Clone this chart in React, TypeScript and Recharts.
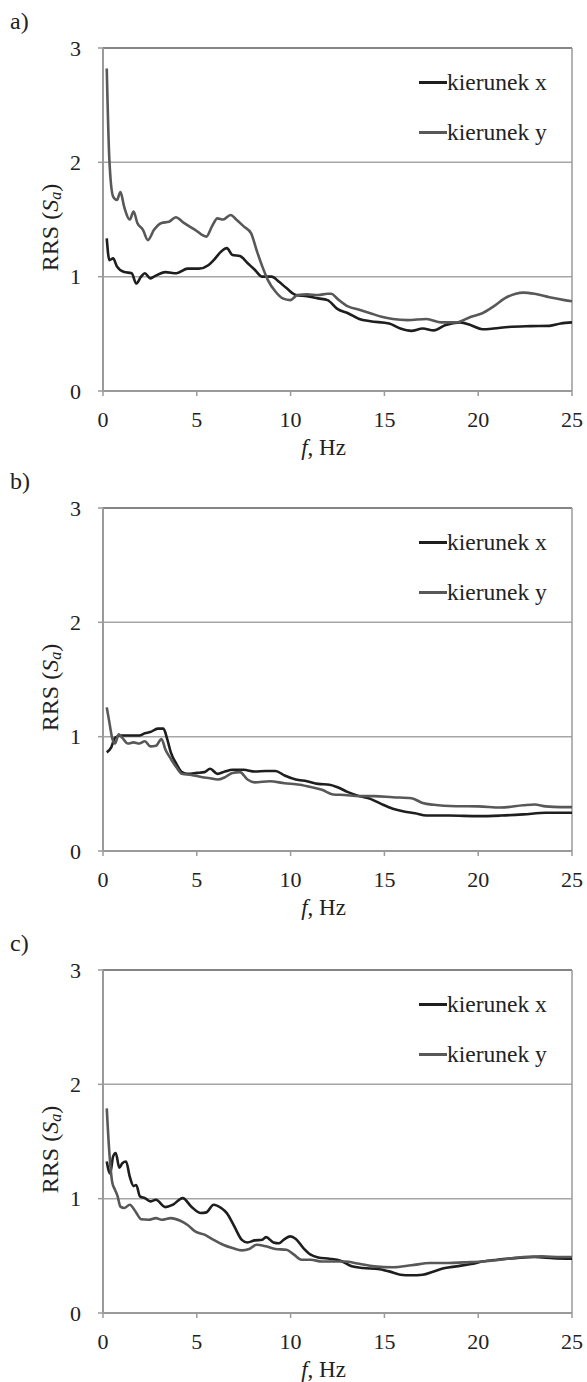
import React from 'react';
import { LineChart, Line, XAxis, YAxis, CartesianGrid, ReferenceLine, Legend, Label } from 'recharts';

const FONT = '"Liberation Serif", "Times New Roman", Times, serif';
const COLOR_X = '#1e1e1e';
const COLOR_Y = '#585858';
const AXIS_GRAY = '#9a9a9a';

const freqTicks = [0, 5, 10, 15, 20, 25];
const rrsTicks = [0, 1, 2, 3];
const seriesNames = ['kierunek x', 'kierunek y'];
const panelLabels = ['a)', 'b)', 'c)'];

// ---- panel a ----
const aFreqX = [0.2, 0.34, 0.54, 0.74, 1.13, 1.53, 1.77, 2.03, 2.23, 2.52, 2.72, 3.32, 3.92, 4.51, 5.11, 5.61, 5.9, 6.3, 6.6, 6.9, 7.3, 7.7, 8.09, 8.49, 8.99, 9.38, 9.78, 10.28, 10.87, 11.47, 11.97, 12.47, 13.06, 13.66, 14.25, 15.25, 15.85, 16.44, 17.04, 17.63, 18.23, 19.03, 19.62, 20.22, 20.82, 21.61, 22.8, 23.8, 24.4, 25];
const aRrsX = [1.335, 1.145, 1.16, 1.09, 1.04, 1.03, 0.94, 1.0, 1.03, 0.985, 1.0, 1.04, 1.03, 1.07, 1.07, 1.1, 1.145, 1.22, 1.25, 1.19, 1.18, 1.12, 1.06, 1.0, 1.0, 0.955, 0.9, 0.84, 0.83, 0.81, 0.795, 0.72, 0.68, 0.63, 0.61, 0.59, 0.546, 0.526, 0.546, 0.53, 0.575, 0.6, 0.575, 0.54, 0.546, 0.56, 0.567, 0.57, 0.59, 0.6];
const aFreqY = [0.2, 0.34, 0.54, 0.74, 0.93, 1.13, 1.43, 1.63, 1.83, 2.13, 2.39, 2.72, 3.12, 3.52, 3.88, 4.31, 4.91, 5.51, 5.81, 6.1, 6.4, 6.8, 7.1, 7.5, 7.89, 8.19, 8.49, 8.79, 9.19, 9.58, 9.98, 10.38, 10.87, 11.47, 11.97, 12.17, 12.47, 13.06, 13.66, 14.25, 14.85, 15.45, 16.24, 17.24, 18.03, 18.83, 19.62, 20.22, 20.82, 21.41, 22.0, 22.4, 23.0, 23.8, 24.6, 25];
const aRrsY = [2.82, 2.02, 1.7, 1.67, 1.74, 1.61, 1.5, 1.57, 1.47, 1.41, 1.32, 1.41, 1.47, 1.48, 1.52, 1.47, 1.41, 1.35, 1.44, 1.51, 1.5, 1.54, 1.5, 1.44, 1.38, 1.23, 1.09, 0.97, 0.87, 0.81, 0.795, 0.84, 0.845, 0.84, 0.85, 0.85, 0.81, 0.74, 0.71, 0.68, 0.65, 0.63, 0.62, 0.63, 0.6, 0.6, 0.65, 0.68, 0.74, 0.81, 0.85, 0.86, 0.85, 0.82, 0.795, 0.785];

// ---- panel b ----
const bFreqX = [0.2, 0.44, 0.64, 0.93, 1.33, 1.93, 2.23, 2.52, 2.92, 3.22, 3.42, 3.62, 3.92, 4.21, 4.51, 5.01, 5.41, 5.71, 6.1, 6.5, 6.9, 7.5, 8.09, 8.69, 9.19, 9.68, 10.28, 10.87, 11.47, 12.07, 12.47, 13.06, 13.66, 14.25, 14.85, 15.45, 16.04, 16.64, 17.24, 18.43, 20.02, 21.2, 22.4, 23.6, 25];
const bRrsX = [0.863, 0.907, 0.99, 1.01, 1.01, 1.01, 1.03, 1.04, 1.07, 1.07, 0.98, 0.86, 0.76, 0.69, 0.675, 0.683, 0.69, 0.72, 0.675, 0.695, 0.71, 0.71, 0.695, 0.7, 0.7, 0.66, 0.625, 0.61, 0.587, 0.58, 0.56, 0.515, 0.48, 0.456, 0.41, 0.37, 0.346, 0.33, 0.31, 0.31, 0.305, 0.31, 0.32, 0.334, 0.334];
const bFreqY = [0.2, 0.34, 0.5, 0.64, 0.84, 1.03, 1.33, 1.63, 1.93, 2.23, 2.52, 2.82, 3.12, 3.32, 3.62, 3.92, 4.21, 4.71, 5.31, 5.71, 6.1, 6.5, 6.9, 7.3, 7.7, 8.09, 8.89, 9.68, 10.48, 11.07, 11.67, 12.27, 12.87, 13.66, 14.45, 15.45, 16.44, 17.04, 17.63, 18.83, 20.02, 21.2, 22.4, 23.0, 23.6, 24.4, 25];
const bRrsY = [1.256, 1.125, 0.98, 0.94, 1.02, 0.99, 0.94, 0.95, 0.94, 0.96, 0.915, 0.92, 0.98, 0.89, 0.805, 0.73, 0.675, 0.665, 0.645, 0.637, 0.625, 0.645, 0.683, 0.69, 0.625, 0.6, 0.61, 0.593, 0.58, 0.56, 0.535, 0.494, 0.49, 0.48, 0.48, 0.47, 0.462, 0.42, 0.404, 0.392, 0.39, 0.38, 0.4, 0.407, 0.39, 0.384, 0.384];

// ---- panel c ----
const cFreqX = [0.2, 0.38, 0.54, 0.68, 0.87, 1.03, 1.23, 1.43, 1.63, 1.77, 1.97, 2.23, 2.52, 2.82, 3.32, 3.72, 4.25, 4.71, 5.21, 5.51, 5.9, 6.3, 6.6, 7.0, 7.4, 7.7, 8.09, 8.49, 8.69, 9.09, 9.38, 9.68, 9.98, 10.28, 10.68, 11.07, 11.47, 12.07, 12.66, 13.26, 13.86, 14.65, 15.25, 15.85, 16.44, 17.04, 17.63, 18.23, 18.83, 19.62, 20.22, 21.01, 22.0, 23.0, 24.0, 25];
const cRrsX = [1.325, 1.22, 1.37, 1.4, 1.27, 1.31, 1.325, 1.19, 1.11, 1.12, 1.02, 1.005, 0.976, 0.99, 0.926, 0.947, 1.005, 0.93, 0.874, 0.88, 0.947, 0.918, 0.874, 0.757, 0.64, 0.617, 0.635, 0.64, 0.664, 0.617, 0.61, 0.647, 0.67, 0.647, 0.568, 0.51, 0.486, 0.475, 0.457, 0.408, 0.393, 0.385, 0.364, 0.335, 0.33, 0.335, 0.364, 0.393, 0.408, 0.428, 0.45, 0.466, 0.48, 0.49, 0.48, 0.475];
const cFreqY = [0.2, 0.34, 0.5, 0.64, 0.78, 0.93, 1.13, 1.43, 1.73, 2.03, 2.43, 2.82, 3.12, 3.62, 4.12, 4.51, 4.91, 5.41, 5.9, 6.4, 6.9, 7.4, 7.79, 8.19, 8.69, 9.19, 9.78, 10.18, 10.58, 11.07, 11.67, 12.27, 12.87, 13.66, 14.45, 15.45, 16.44, 17.44, 18.43, 19.22, 20.22, 21.2, 22.4, 23.4, 24.4, 25];
const cRrsY = [1.79, 1.4, 1.136, 1.078, 1.02, 0.93, 0.918, 0.947, 0.888, 0.82, 0.816, 0.83, 0.816, 0.83, 0.807, 0.77, 0.714, 0.685, 0.64, 0.597, 0.568, 0.548, 0.56, 0.597, 0.583, 0.56, 0.553, 0.51, 0.466, 0.466, 0.45, 0.45, 0.45, 0.43, 0.408, 0.4, 0.417, 0.437, 0.437, 0.443, 0.45, 0.466, 0.49, 0.495, 0.49, 0.49];

const toPoints = (f: number[], v: number[]) => f.map((fi, i) => ({ f: fi, v: v[i] }));

const panels = [
  { label: panelLabels[0], top: 0, x: toPoints(aFreqX, aRrsX), y: toPoints(aFreqY, aRrsY) },
  { label: panelLabels[1], top: 460, x: toPoints(bFreqX, bRrsX), y: toPoints(bFreqY, bRrsY) },
  { label: panelLabels[2], top: 922, x: toPoints(cFreqX, cRrsX), y: toPoints(cFreqY, cRrsY) },
];

const renderYTitle = (props: any) => {
  const vb = props.viewBox || {};
  const cx = (vb.x ?? 0) + 50;
  const cy = (vb.y ?? 0) + (vb.height ?? 0) / 2 + 8;
  return (
    <text
      x={cx}
      y={cy}
      transform={`rotate(-90, ${cx}, ${cy})`}
      textAnchor="middle"
      dominantBaseline="central"
      fontFamily={FONT}
      fontSize={24}
      fill="#222"
    >
      RRS (<tspan fontStyle="italic">S</tspan>
      <tspan fontStyle="italic" fontSize={16} dy={5}>a</tspan>
      <tspan dy={-5}>)</tspan>
    </text>
  );
};

const renderXTitle = (props: any) => {
  const vb = props.viewBox || {};
  const cx = (vb.x ?? 0) + (vb.width ?? 0) / 2 - 14;
  const by = (vb.y ?? 0) + 64;
  return (
    <text x={cx} y={by} textAnchor="middle" fontFamily={FONT} fontSize={23} fill="#222">
      <tspan fontStyle="italic">f</tspan>
      <tspan>, Hz</tspan>
    </text>
  );
};

const renderLegend = (props: any) => {
  const items = (props.payload || []).slice().sort((a: any, b: any) => String(a.value).localeCompare(String(b.value)));
  return (
    <div style={{ fontFamily: FONT, fontSize: 23.5, color: '#222' }}>
      {items.map((e: any) => (
        <div key={e.value} style={{ display: 'flex', alignItems: 'center', height: 50, whiteSpace: 'nowrap' }}>
          <span style={{ display: 'inline-block', width: 28, height: 3, background: e.color }} />
          <span>{e.value}</span>
        </div>
      ))}
    </div>
  );
};

function Panel({ p }: { p: any }) {
  return (
    <div style={{ position: 'absolute', left: 0, top: p.top, width: 587, height: 460 }}>
      <div
        style={{
          position: 'absolute',
          left: 10,
          top: 9,
          fontFamily: FONT,
          fontSize: 24,
          lineHeight: 1,
          color: '#222',
          zIndex: 2,
        }}
      >
        {p.label}
      </div>
      <LineChart width={587} height={460} margin={{ top: 48, right: 15, bottom: 0, left: 0 }}>
        <CartesianGrid vertical={false} stroke="#a6a6a6" strokeWidth={1.5} />
        <XAxis
          dataKey="f"
          type="number"
          domain={[0, 25]}
          ticks={freqTicks}
          interval={0}
          height={69}
          allowDataOverflow
          tickSize={5}
          tickMargin={15}
          tick={{ fontFamily: FONT, fontSize: 22, fill: '#222' }}
          axisLine={{ stroke: AXIS_GRAY, strokeWidth: 2 }}
          tickLine={{ stroke: AXIS_GRAY, strokeWidth: 1.5 }}
          label={<Label content={renderXTitle} />}
        />
        <YAxis
          type="number"
          domain={[0, 3]}
          ticks={rrsTicks}
          interval={0}
          width={103}
          allowDataOverflow
          tickSize={5}
          tickMargin={17}
          tick={{ fontFamily: FONT, fontSize: 22, fill: '#222' }}
          axisLine={{ stroke: AXIS_GRAY, strokeWidth: 2 }}
          tickLine={{ stroke: AXIS_GRAY, strokeWidth: 1.5 }}
          label={<Label content={renderYTitle} />}
        />
        <ReferenceLine y={3} stroke="#858585" strokeWidth={2} />
        <ReferenceLine x={25} stroke={AXIS_GRAY} strokeWidth={1.5} />
        <Legend
          layout="vertical"
          align="center"
          verticalAlign="middle"
          content={renderLegend}
          wrapperStyle={{ left: 419, top: 57, width: 168, right: 'auto', bottom: 'auto' }}
        />
        <Line
          data={p.x}
          dataKey="v"
          name={seriesNames[0]}
          type="monotone"
          stroke={COLOR_X}
          strokeWidth={2.6}
          dot={false}
          activeDot={false}
          isAnimationActive={false}
        />
        <Line
          data={p.y}
          dataKey="v"
          name={seriesNames[1]}
          type="monotone"
          stroke={COLOR_Y}
          strokeWidth={2.6}
          dot={false}
          activeDot={false}
          isAnimationActive={false}
        />
      </LineChart>
    </div>
  );
}

export default function App() {
  return (
    <div style={{ position: 'absolute', left: 0, top: 0, width: 587, height: 1382, background: '#fff', overflow: 'hidden' }}>
      {panels.map((p) => (
        <Panel key={p.label} p={p} />
      ))}
    </div>
  );
}
